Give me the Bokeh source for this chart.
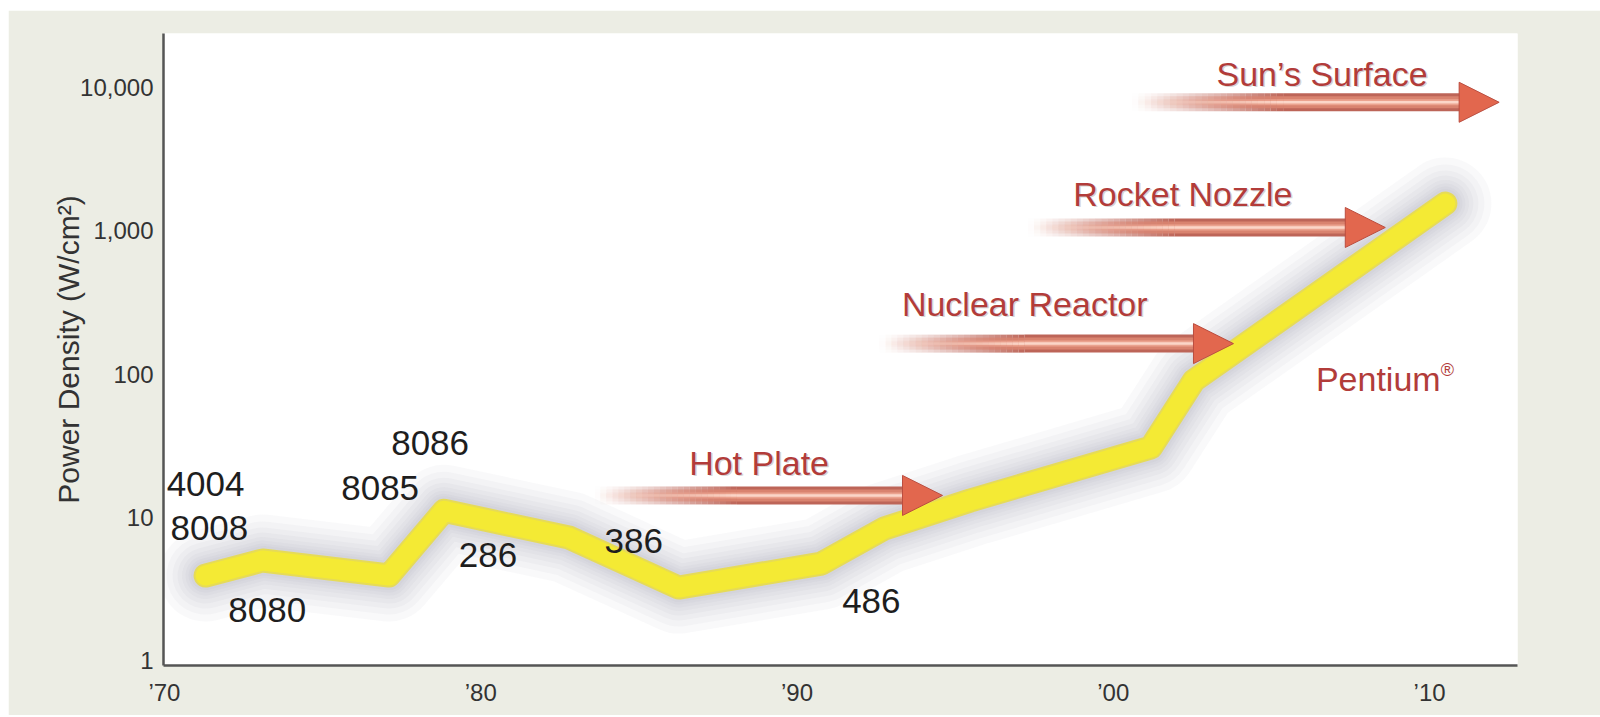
from bokeh.plotting import figure
from bokeh.models import Range1d, FixedTicker, ColumnDataSource, Arrow, NormalHead, LabelSet
from bokeh.core.properties import value
from bokeh.embed import file_html
from bokeh.resources import INLINE

# ---------------- data ----------------
years = [1971.3, 1973.1, 1977.1, 1978.84, 1982.79, 1986.26, 1990.77, 1992.76, 1995.48, 2001.19, 2002.55, 2010.5]
density = [3.92, 4.99, 3.92, 11.1, 7.22, 3.23, 4.75, 8.35, 13.1, 30.7, 90.1, 1550]

chip_names = ["4004", "8008", "8080", "8085", "8086", "286", "386", "486"]
chip_x = [1971.3, 1971.42, 1973.25, 1976.82, 1978.40, 1980.23, 1984.84, 1992.35]
chip_y = [17.2, 8.35, 2.27, 15.9, 33.2, 5.41, 6.88, 2.62]

ref_labels = ["Hot Plate", "Nuclear Reactor", "Rocket Nozzle", "Sun\u2019s Surface"]
ref_level = [14.2, 163, 1054, 7890]
ref_arrow_start = [1983.6, 1992.6, 1997.3, 2000.6]
ref_arrow_tip = [1994.6, 2003.8, 2008.6, 2012.2]
ref_text_x = [1988.8, 1997.2, 2002.2, 2006.6]
ref_text_y = [24.1, 310, 1820, 12520]

pentium_label = "Pentium"
pentium_x = [2010.35]
pentium_y = [93]

x_ticks = [1970, 1980, 1990, 2000, 2010]
x_tick_labels = ["\u201970", "\u201980", "\u201990", "\u201900", "\u201910"]
y_ticks = [1, 10, 100, 1000, 10000]
y_tick_labels = ["1", "10", "100", "1,000", "10,000"]

FONT = "Liberation Sans"

# ---------------- figure ----------------
p = figure(width=1592, height=705,
           x_range=Range1d(1969.97, 2012.78), y_range=Range1d(0.923, 23830),
           y_axis_type="log", output_backend="svg", toolbar_location=None,
           min_border_left=155, min_border_right=83, min_border_top=23, min_border_bottom=50,
           background_fill_color="white", border_fill_color="#ecede4",
           outline_line_color=None)
p.margin = (10, 0, 0, 8)
p.xgrid.visible = False
p.ygrid.visible = False

xa = p.xaxis[0]
ya = p.yaxis[0]
xa.ticker = FixedTicker(ticks=x_ticks)
xa.major_label_overrides = {t: l for t, l in zip(x_ticks, x_tick_labels)}
ya.ticker = FixedTicker(ticks=y_ticks)
ya.major_label_overrides = {t: l for t, l in zip(y_ticks, y_tick_labels)}
for ax in (xa, ya):
    ax.axis_line_color = "#555555"
    ax.axis_line_width = 2.5
    ax.major_tick_line_color = None
    ax.minor_tick_line_color = None
    ax.major_tick_out = 0
    ax.major_tick_in = 0
    ax.minor_tick_out = 0
    ax.minor_tick_in = 0
    ax.major_label_text_font = FONT
    ax.major_label_text_font_size = "24px"
    ax.major_label_text_color = "#333333"
xa.major_label_standoff = 13
ya.major_label_standoff = 10
ya.axis_label = "Power Density (W/cm\u00b2)"
ya.axis_label_text_font = FONT
ya.axis_label_text_font_size = "30px"
ya.axis_label_text_font_style = "normal"
ya.axis_label_text_color = "#333333"
ya.axis_label_standoff = -8

# ---------------- power density line with soft shadow ----------------
line_src = ColumnDataSource(dict(x=years, y=density))
for w in [92, 78, 66, 56, 47, 40, 34, 29]:
    p.line("x", "y", source=line_src, line_width=w, line_color="#85859a",
           line_alpha=0.05, line_join="round", line_cap="round")
p.line("x", "y", source=line_src, line_width=24, line_color="#e8dc48",
       line_alpha=0.9, line_join="round", line_cap="round")
p.line("x", "y", source=line_src, line_width=20, line_color="#f4ea34",
       line_join="round", line_cap="round")

# ---------------- reference arrows ----------------
n_fade = 24
fade_frac = 0.45
seg = dict(x0=[], x1=[], y=[], a=[])
for xs, xt, lvl in zip(ref_arrow_start, ref_arrow_tip, ref_level):
    shaft_end = xt - 1.0
    fade_len = (shaft_end - xs) * fade_frac
    for i in range(n_fade):
        seg["x0"].append(xs + fade_len * i / n_fade)
        seg["x1"].append(xs + fade_len * (i + 1) / n_fade)
        seg["y"].append(lvl)
        seg["a"].append(((i + 0.5) / n_fade) ** 1.3)
    seg["x0"].append(xs + fade_len)
    seg["x1"].append(shaft_end)
    seg["y"].append(lvl)
    seg["a"].append(1.0)
seg_src = ColumnDataSource(seg)
for w, c in [(18, "#bd6558"), (12, "#d9836f"), (6, "#eba38f"), (2.5, "#fbd6c8")]:
    p.segment(x0="x0", y0="y", x1="x1", y1="y", source=seg_src,
              line_width=w, line_color=c, line_alpha="a", line_cap="butt")

head_src = ColumnDataSource(dict(
    xs=[t - 0.5 for t in ref_arrow_tip], xe=ref_arrow_tip, y=ref_level))
p.add_layout(Arrow(x_start="xs", y_start="y", x_end="xe", y_end="y", source=head_src,
                   line_color=None,
                   end=NormalHead(size=40, fill_color="#e2674e", line_color="#bb4d3f",
                                  line_width=1)))

# ---------------- texts ----------------
p.text(x=ref_text_x, y=ref_text_y, text=ref_labels, text_font=value(FONT),
       text_font_size="34px", text_color="#888888", text_alpha=0.35,
       x_offset=1.5, y_offset=1.5, text_align="center", text_baseline="middle")
p.text(x=ref_text_x, y=ref_text_y, text=ref_labels, text_font=value(FONT),
       text_font_size="34px", text_color="#b23c3a",
       text_align="center", text_baseline="middle")

p.text(x=pentium_x, y=pentium_y, text=[pentium_label], text_font=value(FONT),
       text_font_size="34px", text_color="#b23c3a",
       text_align="right", text_baseline="middle")
p.text(x=pentium_x, y=pentium_y, text=["\u00ae"], text_font=value(FONT),
       text_font_size="18px", text_color="#b23c3a", y_offset=-9,
       text_align="left", text_baseline="middle")

chip_src = ColumnDataSource(dict(x=chip_x, y=chip_y, t=chip_names))
p.add_layout(LabelSet(x="x", y="y", text="t", source=chip_src,
                      text_font=value(FONT), text_font_size="35px",
                      text_color="#1e1e1e", text_align="center",
                      text_baseline="middle"))

open("out.html", "w").write(file_html(p, INLINE))
